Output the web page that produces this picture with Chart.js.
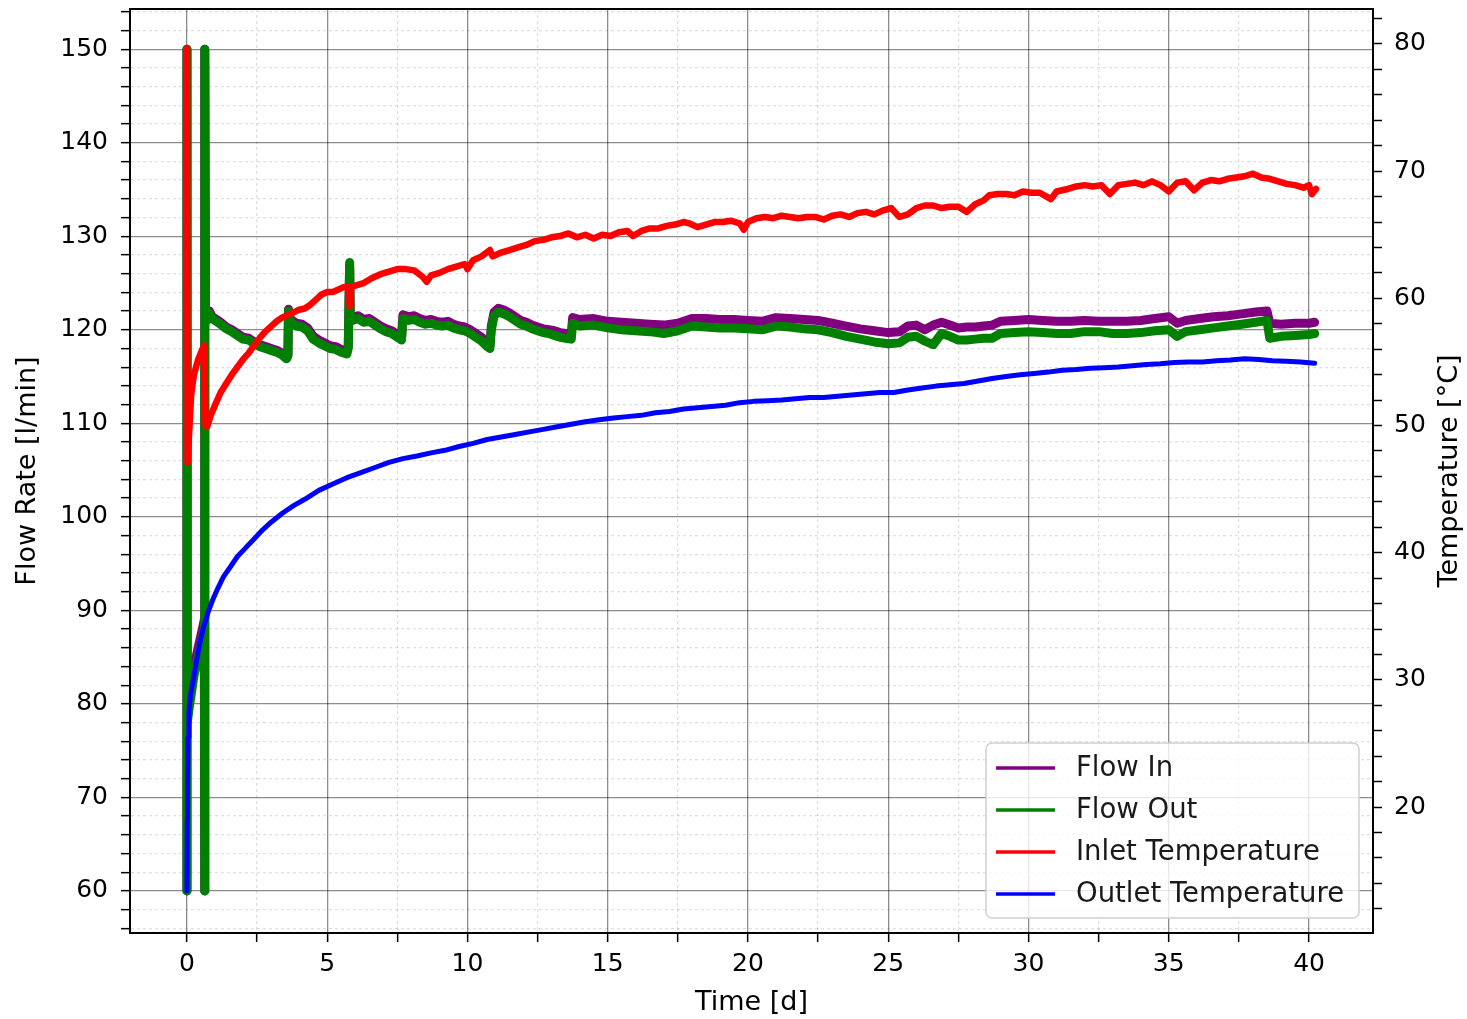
<!DOCTYPE html>
<html>
<head>
<meta charset="utf-8">
<title>Flow Rate and Temperature</title>
<script src="https://cdn.jsdelivr.net/npm/chart.js@4.4.1/dist/chart.umd.min.js"></script>
<style>
  html, body { margin: 0; padding: 0; background: #fff; }
  canvas { display: block; }
</style>
</head>
<body>
<canvas id="chart" width="1467" height="1019"></canvas>
<script>
// ---- values ----

// time [d] shared by both flow series
const flowTime = [
  0, 0, 0.01, 0.1, 0.25, 0.4, 0.55, 0.62, 0.63, 0.64,
  0.66, 0.72, 0.8, 0.9, 1.0, 1.2, 1.4, 1.6, 1.8, 2.0,
  2.2, 2.4, 2.6, 2.8, 3.0, 3.2, 3.4, 3.55, 3.6, 3.62,
  3.7, 3.9, 4.1, 4.3, 4.5, 4.7, 4.9, 5.1, 5.3, 5.5,
  5.7, 5.75, 5.8, 5.82, 5.9, 6.1, 6.3, 6.5, 6.7, 6.9,
  7.1, 7.3, 7.5, 7.65, 7.7, 7.9, 8.1, 8.3, 8.5, 8.7,
  8.9, 9.1, 9.3, 9.5, 9.7, 9.9, 10.1, 10.3, 10.5, 10.7,
  10.8, 10.85, 10.95, 11.1, 11.3, 11.5, 11.7, 11.9, 12.1, 12.3,
  12.5, 12.7, 12.9, 13.1, 13.3, 13.5, 13.7, 13.75, 14.0, 14.5,
  15.0, 15.5, 16.0, 16.5, 17.0, 17.5, 18.0, 18.5, 19.0, 19.5,
  20.0, 20.5, 21.0, 21.5, 22.0, 22.5, 23.0, 23.5, 24.0, 24.5,
  25.0, 25.4, 25.7, 26.0, 26.3, 26.6, 26.9, 27.2, 27.5, 27.8,
  28.1, 28.4, 28.7, 29.0, 29.5, 30.0, 30.5, 31.0, 31.5, 32.0,
  32.5, 33.0, 33.5, 34.0, 34.5, 35.0, 35.3, 35.6, 36.1, 36.6,
  37.1, 37.6, 38.1, 38.5, 38.6, 39.0, 39.5, 40.0, 40.2
];

// Flow In [l/min]
const flowIn = [
  60, 150, 79, 81, 84, 86, 88, 89, 60, 150,
  122.5, 121.2, 122.0, 121.4, 121.2, 120.8, 120.3, 120.0, 119.6, 119.2,
  119.1, 118.7, 118.4, 118.2, 118.0, 117.8, 117.5, 117.1, 117.4, 122.2,
  121.1, 120.7, 120.6, 120.2, 119.3, 118.9, 118.6, 118.3, 118.2, 117.9,
  117.7, 118.3, 126.8, 121.8, 121.3, 121.5, 121.1, 121.2, 120.8, 120.4,
  120.1, 119.9, 119.5, 119.2, 121.6, 121.4, 121.5, 121.2, 121.0, 121.1,
  120.9, 120.8, 120.9, 120.6, 120.4, 120.3, 120.0, 119.6, 119.2, 118.6,
  118.4, 120.4, 121.9, 122.3, 122.1, 121.8, 121.4, 121.0, 120.8, 120.5,
  120.3, 120.1, 120.0, 119.9, 119.7, 119.6, 119.5, 121.3, 121.1, 121.2,
  120.9, 120.8, 120.7, 120.6, 120.5, 120.7, 121.2, 121.2, 121.1, 121.1,
  121.0, 120.9, 121.3, 121.2, 121.1, 121.0, 120.7, 120.4, 120.1, 119.9,
  119.7, 119.8, 120.4, 120.5, 120.0, 120.5, 120.8, 120.5, 120.2, 120.3,
  120.3, 120.4, 120.5, 120.9, 121.0, 121.1, 121.0, 120.9, 120.9, 121.0,
  120.9, 120.9, 120.9, 121.0, 121.2, 121.4, 120.7, 121.0, 121.2, 121.4,
  121.5, 121.7, 121.9, 122.0, 120.7, 120.6, 120.7, 120.7, 120.8
];

// Flow Out [l/min]
const flowOut = [
  60, 150, 78, 80, 83, 85, 87, 88, 60, 150,
  122.3, 121.0, 121.8, 121.2, 121.0, 120.6, 120.1, 119.8, 119.4, 119.0,
  118.9, 118.5, 118.2, 118.0, 117.8, 117.6, 117.3, 116.9, 117.2, 122.0,
  120.8, 120.4, 120.3, 119.9, 119.0, 118.6, 118.3, 118.0, 117.9, 117.6,
  117.4, 118.0, 127.2, 121.5, 121.0, 121.2, 120.8, 120.9, 120.5, 120.1,
  119.8, 119.6, 119.2, 118.9, 121.2, 121.0, 121.1, 120.8, 120.6, 120.7,
  120.5, 120.4, 120.5, 120.2, 120.0, 119.9, 119.6, 119.2, 118.8, 118.2,
  118.0, 120.0, 121.5, 121.9, 121.7, 121.4, 121.0, 120.6, 120.4, 120.1,
  119.9, 119.7, 119.6, 119.4, 119.2, 119.1, 119.0, 120.7, 120.4, 120.5,
  120.2, 120.0, 119.9, 119.8, 119.6, 119.9, 120.4, 120.3, 120.2, 120.2,
  120.1, 120.0, 120.4, 120.3, 120.1, 120.0, 119.7, 119.3, 119.0, 118.7,
  118.5, 118.6, 119.2, 119.3, 118.8, 118.4, 119.6, 119.3, 118.9, 118.9,
  119.0, 119.1, 119.1, 119.6, 119.7, 119.8, 119.7, 119.6, 119.6, 119.8,
  119.8, 119.6, 119.6, 119.7, 119.9, 120.0, 119.3, 119.8, 120.0, 120.2,
  120.4, 120.6, 120.8, 121.0, 119.1, 119.3, 119.4, 119.5, 119.6
];

// Inlet Temperature [°C]
const inletTime = [
  0, 0.02, 0.08, 0.15, 0.25, 0.4, 0.55, 0.62, 0.66, 0.72,
  0.85, 1.0, 1.2, 1.4, 1.6, 1.8, 2.0, 2.2, 2.4, 2.6,
  2.8, 3.0, 3.2, 3.4, 3.6, 3.8, 4.0, 4.2, 4.4, 4.6,
  4.8, 5.0, 5.2, 5.4, 5.6, 5.78, 5.8, 5.82, 6.0, 6.3,
  6.6, 6.9, 7.2, 7.5, 7.8, 8.1, 8.4, 8.55, 8.7, 9.0,
  9.3, 9.6, 9.9, 10.0, 10.2, 10.5, 10.8, 10.9, 11.2, 11.5,
  11.8, 12.1, 12.4, 12.7, 13.0, 13.3, 13.6, 13.9, 14.2, 14.5,
  14.8, 15.1, 15.4, 15.7, 15.9, 16.2, 16.5, 16.8, 17.1, 17.4,
  17.7, 17.9, 18.2, 18.5, 18.8, 19.1, 19.4, 19.7, 19.85, 20.0,
  20.3, 20.6, 20.9, 21.2, 21.5, 21.8, 22.1, 22.4, 22.7, 23.0,
  23.3, 23.6, 23.9, 24.2, 24.5, 24.8, 25.1, 25.4, 25.7, 26.0,
  26.3, 26.6, 26.9, 27.2, 27.5, 27.8, 28.1, 28.4, 28.6, 28.9,
  29.2, 29.5, 29.8, 30.1, 30.4, 30.8, 31.0, 31.4, 31.7, 32.0,
  32.3, 32.6, 32.9, 33.2, 33.5, 33.8, 34.1, 34.4, 34.7, 35.0,
  35.3, 35.6, 35.9, 36.2, 36.5, 36.8, 37.1, 37.4, 37.7, 38.0,
  38.3, 38.6, 38.9, 39.2, 39.5, 39.8, 40.0, 40.1, 40.25
];
const inletTemp = [
  79.6, 47.1, 49.5, 52.4, 54.0, 55.2, 56.0, 56.3, 50.0, 49.9,
  50.8, 51.6, 52.6, 53.3, 54.0, 54.6, 55.2, 55.7, 56.3, 56.9,
  57.4, 57.8, 58.2, 58.5, 58.7, 58.9, 59.1, 59.2, 59.5, 59.9,
  60.3, 60.5, 60.5, 60.7, 60.9, 60.9, 59.4, 60.8, 61.0, 61.2,
  61.6, 61.9, 62.1, 62.3, 62.3, 62.2, 61.7, 61.3, 61.8, 62.0,
  62.3, 62.5, 62.7, 62.3, 63.0, 63.3, 63.8, 63.3, 63.6, 63.8,
  64.0, 64.2, 64.5, 64.6, 64.8, 64.9, 65.1, 64.8, 65.0, 64.7,
  65.0, 64.9, 65.2, 65.3, 64.9, 65.3, 65.5, 65.5, 65.7, 65.8,
  66.0, 65.9, 65.6, 65.8, 66.0, 66.0, 66.1, 65.9, 65.4, 66.0,
  66.3, 66.4, 66.3, 66.5, 66.4, 66.3, 66.4, 66.4, 66.2, 66.5,
  66.6, 66.4, 66.7, 66.8, 66.6, 66.9, 67.1, 66.4, 66.6, 67.1,
  67.3, 67.3, 67.1, 67.2, 67.2, 66.8, 67.4, 67.7, 68.1, 68.2,
  68.2, 68.1, 68.4, 68.3, 68.3, 67.8, 68.4, 68.6, 68.8, 68.9,
  68.8, 68.9, 68.2, 68.9, 69.0, 69.1, 68.9, 69.2, 68.9, 68.4,
  69.1, 69.2, 68.5, 69.1, 69.3, 69.2, 69.4, 69.5, 69.6, 69.8,
  69.5, 69.4, 69.2, 69.0, 68.9, 68.7, 68.9, 68.2, 68.6
];

// Outlet Temperature [°C]
const outletTime = [
  0, 0.01, 0.02, 0.04, 0.07, 0.12, 0.2, 0.3, 0.45, 0.6,
  0.75, 0.9, 1.1, 1.3, 1.55, 1.8, 2.1, 2.4, 2.7, 3.0,
  3.4, 3.8, 4.2, 4.7, 5.2, 5.7, 6.2, 6.7, 7.2, 7.7,
  8.2, 8.7, 9.2, 9.7, 10.2, 10.7, 11.2, 11.7, 12.2, 12.7,
  13.2, 13.7, 14.2, 14.7, 15.2, 15.7, 16.2, 16.7, 17.2, 17.7,
  18.2, 18.7, 19.2, 19.7, 20.2, 20.7, 21.2, 21.7, 22.2, 22.7,
  23.2, 23.7, 24.2, 24.7, 25.2, 25.7, 26.2, 26.7, 27.2, 27.7,
  28.2, 28.7, 29.2, 29.7, 30.2, 30.7, 31.2, 31.7, 32.2, 32.7,
  33.2, 33.7, 34.2, 34.7, 35.2, 35.7, 36.2, 36.7, 37.2, 37.7,
  38.2, 38.7, 39.2, 39.7, 40.2
];
const outletTemp = [
  13.4, 19.0, 22.0, 25.5, 27.5, 28.8, 29.7, 31.0, 32.8, 34.2,
  35.3, 36.2, 37.2, 38.1, 38.9, 39.7, 40.4, 41.1, 41.8, 42.4,
  43.1, 43.7, 44.2, 44.9, 45.4, 45.9, 46.3, 46.7, 47.1, 47.4,
  47.6, 47.85, 48.05, 48.35, 48.6, 48.9, 49.1, 49.3, 49.5, 49.7,
  49.9, 50.1, 50.3, 50.45, 50.6, 50.7, 50.8, 51.0, 51.1, 51.3,
  51.4, 51.5, 51.6, 51.8, 51.9, 51.95, 52.0, 52.1, 52.2, 52.2,
  52.3, 52.4, 52.5, 52.6, 52.6, 52.8, 52.95, 53.1, 53.2, 53.3,
  53.5, 53.7, 53.85, 54.0, 54.1, 54.2, 54.35, 54.4, 54.5, 54.55,
  54.6, 54.7, 54.8, 54.85, 54.95, 55.0, 55.0, 55.1, 55.15, 55.25,
  55.2, 55.1, 55.05, 55.0, 54.9
];

const seriesNames = ['Flow In', 'Flow Out', 'Inlet Temperature', 'Outlet Temperature'];
const seriesColors = ['#800080', '#008000', '#ff0000', '#0000ff'];

// labelled ticks
const timeTicks = [0, 5, 10, 15, 20, 25, 30, 35, 40];
const flowTicks = [60, 70, 80, 90, 100, 110, 120, 130, 140, 150];
const tempTicks = [20, 30, 40, 50, 60, 70, 80];
const timeMinorStep = 2.5, flowMinorStep = 2, tempMinorStep = 2;

// ---- chart ----
const FONT = 'DejaVu Sans';
const X_MIN = -2.03, X_MAX = 42.28;
const FLOW_MIN = 55.5, FLOW_MAX = 154.3;
const TEMP_MIN = 10.1, TEMP_MAX = 82.75;

function pairs(xs, ys) {
  return xs.map((x, i) => ({ x: x, y: ys[i] }));
}

function tickValues(min, max, step) {
  const out = [];
  let v = Math.ceil(min / step) * step;
  for (; v <= max + 1e-9; v += step) out.push(Math.round(v * 100) / 100);
  return out;
}

function isMajor(v, majors) {
  return majors.some(m => Math.abs(m - v) < 1e-6);
}

function gridColor(majors) {
  return ctx => {
    if (!ctx.tick) return 'rgba(0,0,0,0.45)';
    return isMajor(ctx.tick.value, majors) ? 'rgba(0,0,0,0.45)' : 'rgba(0,0,0,0.12)';
  };
}
function gridDash(majors) {
  return ctx => {
    if (!ctx.tick) return [];
    return isMajor(ctx.tick.value, majors) ? [] : [3, 3];
  };
}

const tickFont = { family: FONT, size: 25 };
const titleFont = { family: FONT, size: 27 };

// matplotlib-like top spine, right axis label and legend
const extras = {
  id: 'extras',
  afterDraw(chart) {
    const ctx = chart.ctx;
    const area = chart.chartArea;
    ctx.save();

    ctx.strokeStyle = '#000';
    ctx.lineWidth = 2;
    ctx.beginPath();
    ctx.moveTo(area.left - 1, area.top);
    ctx.lineTo(area.right + 1, area.top);
    ctx.stroke();

    ctx.fillStyle = '#000';
    ctx.font = titleFont.size + 'px "' + FONT + '"';
    ctx.textAlign = 'center';
    ctx.textBaseline = 'middle';
    ctx.translate(1450, (area.top + area.bottom) / 2);
    ctx.rotate(-Math.PI / 2);
    ctx.fillText('Temperature [°C]', 0, 0);
    ctx.restore();

    // legend box
    ctx.save();
    const w = 373, h = 175, r = 6;
    const x0 = area.right - 14 - w;
    const y0 = area.bottom - 15 - h;
    ctx.beginPath();
    ctx.moveTo(x0 + r, y0);
    ctx.lineTo(x0 + w - r, y0);
    ctx.arcTo(x0 + w, y0, x0 + w, y0 + r, r);
    ctx.lineTo(x0 + w, y0 + h - r);
    ctx.arcTo(x0 + w, y0 + h, x0 + w - r, y0 + h, r);
    ctx.lineTo(x0 + r, y0 + h);
    ctx.arcTo(x0, y0 + h, x0, y0 + h - r, r);
    ctx.lineTo(x0, y0 + r);
    ctx.arcTo(x0, y0, x0 + r, y0, r);
    ctx.closePath();
    ctx.fillStyle = 'rgba(255,255,255,0.8)';
    ctx.fill();
    ctx.strokeStyle = '#d0d0d0';
    ctx.lineWidth = 1.5;
    ctx.stroke();

    ctx.font = '27.5px "' + FONT + '"';
    ctx.textAlign = 'left';
    ctx.textBaseline = 'middle';
    seriesNames.forEach((name, i) => {
      const y = y0 + 25 + i * 42;
      ctx.strokeStyle = seriesColors[i];
      ctx.lineWidth = 3.5;
      ctx.beginPath();
      ctx.moveTo(x0 + 10, y);
      ctx.lineTo(x0 + 69, y);
      ctx.stroke();
      ctx.fillStyle = '#1a1a1a';
      ctx.fillText(name, x0 + 90, y + 1);
    });
    ctx.restore();
  }
};

const datasets = [
  { data: pairs(flowTime, flowIn), yAxisID: 'y', borderWidth: 9, order: 4 },
  { data: pairs(flowTime, flowOut), yAxisID: 'y', borderWidth: 9, order: 3 },
  { data: pairs(inletTime, inletTemp), yAxisID: 'y1', borderWidth: 6.5, order: 2 },
  { data: pairs(outletTime, outletTemp), yAxisID: 'y1', borderWidth: 5, order: 1 }
].map((d, i) => Object.assign(d, {
  label: seriesNames[i],
  borderColor: seriesColors[i],
  backgroundColor: seriesColors[i],
  pointRadius: 0,
  tension: 0,
  fill: false,
  borderJoinStyle: 'round',
  borderCapStyle: 'round'
}));

new Chart(document.getElementById('chart'), {
  type: 'line',
  data: { datasets: datasets },
  options: {
    responsive: false,
    animation: false,
    events: [],
    layout: { padding: { top: 9, left: 0, right: 0, bottom: 0 } },
    plugins: {
      legend: { display: false },
      tooltip: { enabled: false }
    },
    scales: {
      x: {
        type: 'linear',
        position: 'bottom',
        min: X_MIN,
        max: X_MAX,
        bounds: 'data',
        afterBuildTicks: s => { s.ticks = tickValues(X_MIN, X_MAX, timeMinorStep).map(v => ({ value: v })); },
        afterFit: s => { s.height = 86; s.paddingLeft = 0; s.paddingRight = 0; },
        ticks: {
          autoSkip: false, maxRotation: 0, minRotation: 0, padding: 7,
          color: '#000', font: tickFont,
          callback: v => isMajor(v, timeTicks) ? String(v) : ''
        },
        grid: {
          color: gridColor(timeTicks), lineWidth: 1.3,
          tickLength: 9, tickColor: '#000', tickWidth: 1.5
        },
        border: { display: true, color: '#000', width: 2, dash: gridDash(timeTicks) },
        title: {
          display: true, text: 'Time [d]', color: '#000',
          font: titleFont, padding: { top: 0, bottom: 0 }
        }
      },
      y: {
        type: 'linear',
        position: 'left',
        min: FLOW_MIN,
        max: FLOW_MAX,
        bounds: 'data',
        afterBuildTicks: s => { s.ticks = tickValues(FLOW_MIN, FLOW_MAX, flowMinorStep).map(v => ({ value: v })); },
        afterFit: s => { s.width = 130; s.paddingTop = 0; s.paddingBottom = 0; },
        ticks: {
          autoSkip: false, padding: 13, color: '#000', font: tickFont,
          callback: v => isMajor(v, flowTicks) ? String(v) : ''
        },
        grid: {
          color: gridColor(flowTicks), lineWidth: 1.3,
          tickLength: 9, tickColor: '#000', tickWidth: 1.5
        },
        border: { display: true, color: '#000', width: 2, dash: gridDash(flowTicks) },
        title: {
          display: true, text: 'Flow Rate [l/min]', color: '#000',
          font: titleFont, padding: { top: 12, bottom: 0 }
        }
      },
      y1: {
        type: 'linear',
        position: 'right',
        min: TEMP_MIN,
        max: TEMP_MAX,
        bounds: 'data',
        afterBuildTicks: s => { s.ticks = tickValues(TEMP_MIN, TEMP_MAX, tempMinorStep).map(v => ({ value: v })); },
        afterFit: s => { s.width = 94; s.paddingTop = 0; s.paddingBottom = 0; },
        ticks: {
          autoSkip: false, padding: 12, color: '#000', font: tickFont,
          callback: v => isMajor(v, tempTicks) ? String(v) : ''
        },
        grid: {
          drawOnChartArea: false, tickLength: 9, tickColor: '#000', tickWidth: 1.5
        },
        border: { display: true, color: '#000', width: 2 },
        title: { display: false }
      }
    }
  },
  plugins: [extras]
});
</script>
</body>
</html>
